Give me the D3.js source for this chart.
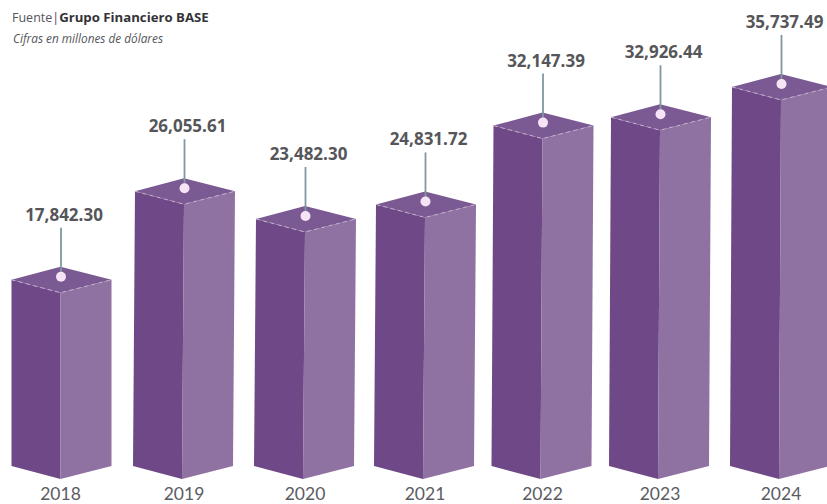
<!doctype html>
<html>
<head>
<meta charset="utf-8">
<title>Grupo Financiero BASE</title>
<script src="https://d3js.org/d3.v7.min.js"></script>
<style>
  html, body { margin: 0; padding: 0; background: #fff; overflow: hidden; }
  svg { display: block; font-family: "Open Sans", sans-serif; }
</style>
</head>
<body>
<svg width="827" height="504"></svg>
<script>
var years = ["2018", "2019", "2020", "2021", "2022", "2023", "2024"];
var values = [17842.30, 26055.61, 23482.30, 24831.72, 32147.39, 32926.44, 35737.49];
var valueLabels = ["17,842.30", "26,055.61", "23,482.30", "24,831.72", "32,147.39", "32,926.44", "35,737.49"];

// layout only: the bars are not evenly spaced and lean slightly towards the bottom
var centers = [60.5, 184, 305, 425, 542.5, 660, 781];
var leans = [0, -2, -2, -2, -2, -2, -2];
var leftW = 49, rightW = 51, rise = 13, baseY = 466;

var svg = d3.select("svg");
var x = d3.scaleOrdinal().domain(years).range(centers);
var lean = d3.scaleOrdinal().domain(years).range(leans);
var y = d3.scaleLinear().domain([0, 40000]).range([472, 41]);

var data = years.map(function(d, i) { return {year: d, value: values[i], label: valueLabels[i]}; });

var bars = svg.selectAll("g.bar").data(data).enter().append("g").attr("class", "bar");

function pts(a) { return a.map(function(p) { return p.join(","); }).join(" "); }

// left face
bars.append("polygon").attr("fill", "#6f4987").attr("points", function(d) {
  var c = x(d.year), t = y(d.value), b = c + lean(d.year);
  return pts([[c - leftW, t], [c, t + rise], [b, baseY + rise], [b - leftW, baseY]]);
});
// right face
bars.append("polygon").attr("fill", "#8f72a1").attr("points", function(d) {
  var c = x(d.year), t = y(d.value), b = c + lean(d.year);
  return pts([[c, t + rise], [c + rightW, t], [b + rightW, baseY], [b, baseY + rise]]);
});
// top
bars.append("polygon").attr("fill", "#7b5a93").attr("points", function(d) {
  var c = x(d.year), t = y(d.value);
  return pts([[c - leftW, t], [c, t - rise], [c + rightW, t], [c, t + rise]]);
});
// dashed front edges of the top
bars.append("polyline").attr("fill", "none").attr("stroke", "#c4b0cf")
  .attr("stroke-width", 1).attr("stroke-dasharray", "4 3.5")
  .attr("points", function(d) {
    var c = x(d.year), t = y(d.value);
    return pts([[c - leftW, t], [c, t + rise], [c + rightW, t]]);
  });
// stem
bars.append("line").attr("stroke", "#7f98a2").attr("stroke-width", 1.8)
  .attr("x1", function(d) { return x(d.year) + 0.5; })
  .attr("x2", function(d) { return x(d.year) + 0.5; })
  .attr("y1", function(d) { return y(d.value) - 52; })
  .attr("y2", function(d) { return y(d.value) - 4; });
// dot
bars.append("circle").attr("fill", "#f6e3f6").attr("r", 5)
  .attr("cx", function(d) { return x(d.year) + 0.5; })
  .attr("cy", function(d) { return y(d.value) - 3; });
// value label
bars.append("text").attr("text-anchor", "middle").attr("fill", "#56565a")
  .attr("font-size", 17).attr("font-weight", 700)
  .attr("x", function(d) { return x(d.year) + 3.5; })
  .attr("y", function(d) { return y(d.value) - 59; })
  .text(function(d) { return d.label; });
// year label, in Lato so the text box stays inside the picture
svg.selectAll("text.year").data(years).enter().append("text").attr("class", "year")
  .attr("text-anchor", "middle").attr("fill", "#5a5c62")
  .attr("font-family", "Lato").attr("font-size", 17.5)
  .attr("x", function(d) { return x(d); })
  .attr("y", 500)
  .text(function(d) { return d; });

// source note
var src = svg.append("text").attr("x", 12).attr("y", 22).attr("fill", "#55555a");
src.append("tspan").attr("font-size", 12.5).text("Fuente");
src.append("tspan").attr("font-size", 12.5).attr("fill", "#5a3a78").text("|");
src.append("tspan").attr("font-size", 13.2).attr("font-weight", 700).attr("fill", "#333338").text("Grupo Financiero BASE");
svg.append("text").attr("x", 13).attr("y", 43).attr("font-size", 11.8).attr("font-style", "italic")
  .attr("fill", "#55555a").text("Cifras en millones de dólares");
</script>
</body>
</html>
